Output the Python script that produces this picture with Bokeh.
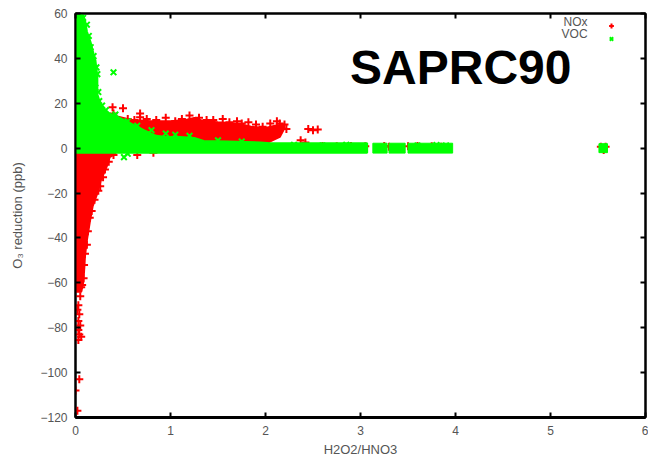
from bokeh.plotting import figure
from bokeh.models import (Range1d, LinearAxis, FixedTicker, CustomJSTickFormatter,
                          Label, Legend, LegendItem)
from bokeh.embed import file_html
from bokeh.resources import INLINE

# ---------------- data ----------------
x_ticks = [0, 1, 2, 3, 4, 5, 6]
y_ticks = [-120, -100, -80, -60, -40, -20, 0, 20, 40, 60]

# dense VOC cloud outline (H2O2/HNO3, O3 reduction)
voc_cloud_x = [0.0, 0.07, 0.10, 0.12, 0.16, 0.19, 0.21, 0.23, 0.23, 0.26, 0.28, 0.33, 0.44,
               0.58, 0.72, 0.85, 0.95, 1.1, 1.25, 1.35, 1.6, 1.8, 1.95, 2.05, 3.07,
               3.07, 1.0, 0.6, 0.42, 0.0]
voc_cloud_y = [60, 60, 57, 52, 47, 42, 39, 32, 24, 20, 18, 16, 14,
               11, 8, 5.5, 5.0, 5.0, 4.5, 3.2, 3.0, 2.8, 2.5, 2.2, 2.2,
               -2.0, -2.0, -2.0, -2.0, -2.0]
# further VOC band segments along zero
voc_band_left = [3.13, 3.30, 3.50, 5.51]
voc_band_right = [3.28, 3.47, 3.97, 5.60]
voc_band_top = [2.2, 2.2, 2.2, 2.0]
voc_band_bottom = [-2.2, -2.2, -2.2, -2.0]

# dense NOx clouds
nox_up_x = [0.40, 0.45, 0.6, 0.8, 1.0, 1.15, 1.25, 1.35, 1.5, 1.7, 1.85, 2.0, 2.1, 2.18, 2.2,
            2.15, 2.0, 1.2, 0.6, 0.4]
nox_up_y = [12, 14, 12.5, 12, 12, 12.5, 13.5, 12, 11.5, 11, 9.5, 9, 10, 10.5, 9,
            5, 2, 2, 2, 8]
nox_dn_x = [0.0, 0.42, 0.42, 0.36, 0.33, 0.30, 0.27, 0.23, 0.18, 0.15, 0.12, 0.10, 0.09,
            0.08, 0.06, 0.0]
nox_dn_y = [0, 0, -2.5, -4, -8, -11, -14, -20, -26, -33, -41, -48, -55, -60, -64, -64]

# individual NOx points
nox_x = [0.39, 0.40, 0.50, 0.68, 0.68, 0.65, 0.82,
         0.55, 0.62, 0.75, 0.85, 0.95, 1.05, 1.12, 1.2, 1.3, 1.38, 1.45, 1.55, 1.62, 1.7,
         1.75, 1.82, 1.9, 1.97, 2.05, 2.12, 2.15, 2.2, 2.22, 2.1, 1.95,
         2.37, 2.45, 2.5, 2.55, 2.42, 2.6, 2.75, 2.9, 3.05, 3.25, 3.3, 3.5, 3.6, 3.75, 3.85,
         5.53, 5.58, 5.56,
         0.4, 0.35, 0.31, 0.29, 0.26, 0.24, 0.2, 0.17, 0.15, 0.13, 0.12, 0.1, 0.09, 0.085, 0.07,
         0.06, 0.05, 0.02, 0.03, 0.04, 0.03, 0.05, 0.03, 0.04, 0.06, 0.03, 0.04, 0.0, 0.02]
nox_y = [18.2, 15.5, 17.8, 15.5, 13.8, -3.0, -2.0,
         13, 12.5, 13, 12.5, 13.5, 12, 13, 14.5, 13.5, 12.5, 12.5, 13, 11.5, 12,
         11, 11.5, 10.5, 9.5, 11, 12, 11, 10.5, 8.5, 7, 6,
         3.5, 8.5, 8, 8.3, 2.5, 1.0, 0.8, 1.0, 0.8, 1.0, 0.6, 0.8, 1.0, 0.8, 0.6,
         0.6, 0.6, -0.8,
         -3, -6, -9.5, -13, -17, -19, -23, -28, -31, -37, -43, -47, -52, -58, -61,
         -62, -66, -72, -70, -74, -77, -79, -81, -83, -84, -85.5, -103, -108, -117]

# individual VOC points
voc_x = [0.40, 0.51, 0.55,
         0.08, 0.12, 0.14, 0.16, 0.19, 0.22, 0.23, 0.21, 0.24, 0.25, 0.28, 0.32, 0.42, 0.55,
         0.65, 0.8, 0.95, 1.05, 1.2, 1.5, 1.75,
         2.3, 2.6, 2.85, 3.6, 3.8, 3.9]
voc_y = [33.8, -4.0, -2.5,
         58, 55, 50, 45, 41, 36, 33, 27, 25, 21, 19, 17, 15, 12,
         10, 8, 6.5, 6, 5.5, 3.5, 3,
         1.5, 1.2, 1.5, 1.2, 1.4, 1.2]

RED = "#ff0000"
GREEN = "#00ff00"
GRAY = "#555555"
FONT = "Liberation Sans"

p = figure(width=648, height=459, output_backend="svg", toolbar_location=None,
           x_range=Range1d(0, 6), y_range=Range1d(-120, 60),
           min_border_left=75, min_border_right=3, min_border_top=13, min_border_bottom=41)
p.grid.visible = False
p.outline_line_color = "black"
p.outline_line_width = 2
p.background_fill_color = "white"

for ax in (p.xaxis[0], p.yaxis[0]):
    ax.major_tick_in = 5
    ax.major_tick_out = 0
    ax.minor_tick_in = 0
    ax.minor_tick_out = 0
    ax.axis_line_width = 2
    ax.major_tick_line_width = 2
    ax.major_label_text_color = GRAY
    ax.major_label_text_font = FONT
    ax.major_label_text_font_size = "12px"
    ax.axis_label_text_color = GRAY
    ax.axis_label_text_font = FONT
    ax.axis_label_text_font_size = "13px"
    ax.axis_label_text_font_style = "normal"

p.xaxis[0].ticker = FixedTicker(ticks=x_ticks)
p.yaxis[0].ticker = FixedTicker(ticks=y_ticks)
p.xaxis[0].axis_line_width = 3
p.xaxis[0].axis_label = "H2O2/HNO3"
p.xaxis[0].major_label_standoff = 8
p.xaxis[0].axis_label_standoff = 4
p.yaxis[0].axis_label = "O\u2083 reduction (ppb)"
p.yaxis[0].major_label_standoff = 8
p.yaxis[0].axis_label_standoff = 12

# mirrored ticks on top and right
for loc, tk in (("above", x_ticks), ("right", y_ticks)):
    ax = LinearAxis(ticker=FixedTicker(ticks=tk),
                    formatter=CustomJSTickFormatter(code="return ''"),
                    major_tick_in=5, major_tick_out=0, minor_tick_in=0, minor_tick_out=0,
                    major_tick_line_width=2, axis_line_width=2, major_label_standoff=0)
    p.add_layout(ax, loc)

# dense clouds
p.patch(nox_dn_x, nox_dn_y, fill_color=RED, line_color=RED, line_width=2)
p.patch(nox_up_x, nox_up_y, fill_color=RED, line_color=RED, line_width=2)
r_nox = p.scatter(nox_x, nox_y, marker="cross", size=8, line_width=2, line_color=RED)
p.patch(voc_cloud_x, voc_cloud_y, fill_color=GREEN, line_color=GREEN, line_width=2)
p.quad(left=voc_band_left, right=voc_band_right, top=voc_band_top, bottom=voc_band_bottom,
       fill_color=GREEN, line_color=GREEN, line_width=1)
r_voc = p.scatter(voc_x, voc_y, marker="x", size=8, line_width=2, line_color=GREEN)

# legend (gnuplot style: text then symbol)
legend = Legend(items=[LegendItem(label="", renderers=[r_nox]),
                       LegendItem(label="", renderers=[r_voc])],
                location=(530, 372), glyph_width=12, glyph_height=13, spacing=0,
                padding=0, margin=0, label_standoff=0, label_width=0,
                border_line_alpha=0, background_fill_alpha=0)
p.add_layout(legend)
p.add_layout(Label(x=5.39, y=53.3, text="NOx", text_align="right", text_font=FONT,
                   text_font_size="12px", text_color=GRAY))
p.add_layout(Label(x=5.39, y=47.6, text="VOC", text_align="right", text_font=FONT,
                   text_font_size="12px", text_color=GRAY))

p.add_layout(Label(x=2.89, y=24, text="SAPRC90", text_font=FONT, text_font_style="bold",
                   text_font_size="48px", text_color="black"))

open("out.html", "w").write(file_html(p, INLINE))
